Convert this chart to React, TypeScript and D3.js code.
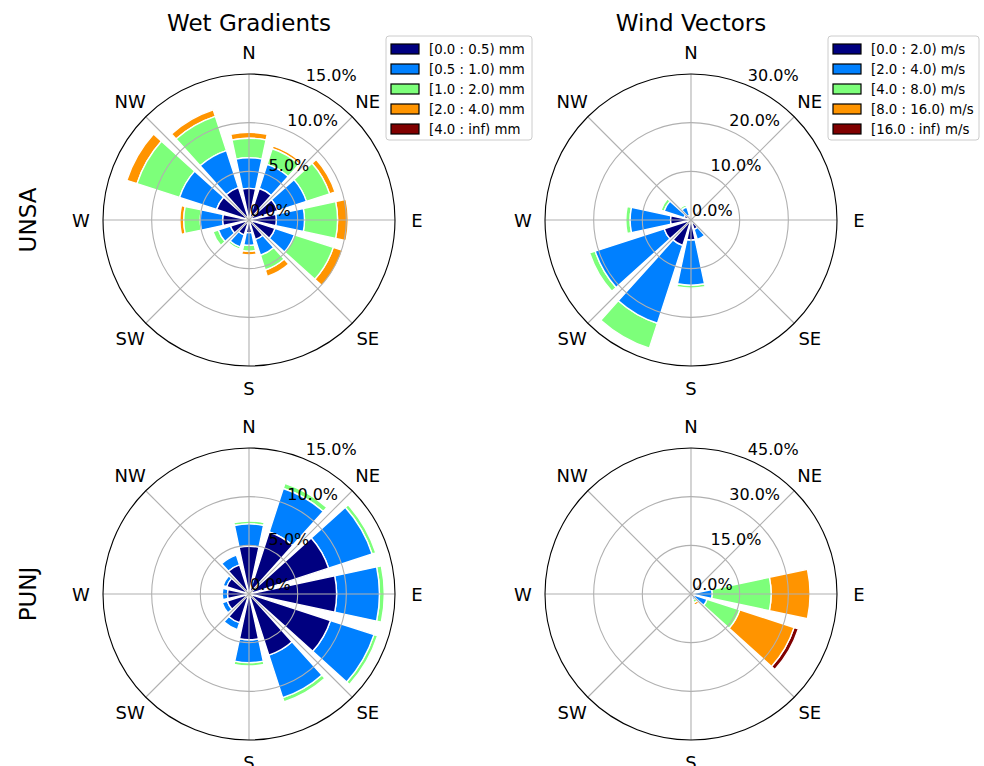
import React, { useEffect, useRef } from "react";
import * as d3 from "d3";

const WIDTH = 984;
const HEIGHT = 766;

// 12 sectors, bar centres in compass degrees
const directions = [0, 30, 60, 90, 120, 150, 180, 210, 240, 270, 300, 330];
const compassLabels = ["N", "NE", "E", "SE", "S", "SW", "W", "NW"];
const binColors = ["#000080", "#0080ff", "#7dff7a", "#ff9400", "#800000"];

const wetBins = ["[0.0 : 0.5) mm", "[0.5 : 1.0) mm", "[1.0 : 2.0) mm", "[2.0 : 4.0) mm", "[4.0 : inf) mm"];
const windBins = ["[0.0 : 2.0) m/s", "[2.0 : 4.0) m/s", "[4.0 : 8.0) m/s", "[8.0 : 16.0) m/s", "[16.0 : inf) m/s"];

const wetTicks = [0, 5, 10, 15];
const windUnsaTicks = [0, 10, 20, 30];
const windPunjTicks = [0, 15, 30, 45];

// frequency (%) of each bin per direction (one row per bin)
const wetUnsa = [
  [3.25, 3.4, 3.1, 2.8, 2.8, 2.1, 1.3, 1.6, 2.0, 2.7, 3.5, 3.5],
  [3.15, 2.6, 3.1, 2.9, 2.1, 1.7, 1.3, 1.3, 1.3, 2.3, 4.0, 4.0],
  [2.0, 1.7, 2.5, 3.4, 4.2, 1.6, 0.6, 0.25, 0.6, 1.7, 4.6, 3.7],
  [0.6, 0.3, 0.6, 1.1, 1.0, 0.7, 0.4, 0.1, 0, 0.4, 1.1, 0.7],
  [0, 0, 0, 0, 0, 0, 0, 0, 0, 0, 0, 0],
];

const windUnsa = [
  [0, 0, 0, 0, 0, 2.0, 4.1, 5.5, 5.8, 4.2, 1.5, 1.0],
  [0, 0, 0, 0, 0, 2.2, 9.3, 16.8, 14.9, 8.3, 4.3, 1.8],
  [0, 0, 0, 0, 0, 0, 0.6, 5.4, 1.2, 0.9, 0.7, 0.5],
  [0, 0, 0, 0, 0, 0, 0, 0, 0, 0, 0, 0],
  [0, 0, 0, 0, 0, 0, 0, 0, 0, 0, 0, 0],
];

const wetPunj = [
  [4.9, 6.7, 8.6, 9.0, 8.8, 6.6, 4.7, 3.1, 2.35, 2.2, 2.4, 3.15],
  [2.3, 4.7, 4.7, 4.4, 4.7, 4.6, 2.35, 0.75, 0.55, 0.55, 0.4, 1.05],
  [0.3, 0.55, 0.4, 0.5, 0.4, 0.45, 0.35, 0, 0, 0, 0, 0],
  [0, 0, 0, 0, 0, 0, 0, 0, 0, 0, 0, 0],
  [0, 0, 0, 0, 0, 0, 0, 0, 0, 0, 0, 0],
];

const windPunj = [
  [0, 0, 0, 0.3, 0.3, 0.2, 0, 0, 0, 0, 0, 0],
  [0, 0, 0, 6.2, 4.9, 1.6, 0, 0, 0, 0, 0, 0],
  [0, 0, 0, 18.2, 10.6, 1.0, 0, 0, 0, 0, 0, 0],
  [0, 0, 0, 12.0, 17.6, 0.8, 0, 0, 0, 0, 0, 0],
  [0, 0, 0, 0, 1.4, 0, 0, 0, 0, 0, 0, 0],
];

const R = 146;
const FONT = "DejaVu Sans, sans-serif";

const panels = [
  { cx: 249, cy: 220, data: wetUnsa, ticks: wetTicks, title: "Wet Gradients", bins: wetBins, legendW: 146 },
  { cx: 691, cy: 220, data: windUnsa, ticks: windUnsaTicks, title: "Wind Vectors", bins: windBins, legendW: 151 },
  { cx: 249, cy: 594, data: wetPunj, ticks: wetTicks },
  { cx: 691, cy: 594, data: windPunj, ticks: windPunjTicks },
];
const rowLabels = [{ text: "UNSA", y: 220 }, { text: "PUNJ", y: 594 }];

const App = () => {
  const svgRef = useRef<SVGSVGElement>(null);

  useEffect(() => {
    const svg = d3.select(svgRef.current);
    svg.selectAll("*").remove();
    const deg = Math.PI / 180;
    const opening = 30 * 0.8; // bar width in degrees

    panels.forEach((p) => {
      const g = svg.append("g").attr("transform", `translate(${p.cx},${p.cy})`);
      const rScale = d3.scaleLinear().domain([0, d3.max(p.ticks)!]).range([0, R]);

      // stacked segments, outer bins drawn first so inner ones sit on top
      const segs: { dir: number; i: number; r0: number; r1: number }[] = [];
      directions.forEach((dir, j) => {
        let acc = 0;
        p.data.forEach((row, i) => {
          const v = row[j];
          if (v > 0) segs.push({ dir, i, r0: acc, r1: acc + v });
          acc += v;
        });
      });
      segs.sort((a, b) => b.i - a.i);

      const arc = d3.arc<any>()
        .innerRadius((d) => rScale(d.r0))
        .outerRadius((d) => rScale(d.r1))
        .startAngle((d) => (d.dir - opening / 2) * deg)
        .endAngle((d) => (d.dir + opening / 2) * deg);

      g.selectAll("path.bar")
        .data(segs)
        .enter()
        .append("path")
        .attr("class", "bar")
        .attr("d", arc)
        .attr("fill", (d) => binColors[d.i])
        .attr("stroke", "white")
        .attr("stroke-width", 1.4)
        .attr("stroke-linejoin", "miter");

      // grid
      g.selectAll("circle.grid")
        .data(p.ticks.slice(1, -1))
        .enter()
        .append("circle")
        .attr("r", (d) => rScale(d))
        .attr("fill", "none")
        .attr("stroke", "#b0b0b0")
        .attr("stroke-width", 1.1);

      g.selectAll("line.grid")
        .data(d3.range(0, 360, 45))
        .enter()
        .append("line")
        .attr("x1", 0)
        .attr("y1", 0)
        .attr("x2", (d) => R * Math.sin(d * deg))
        .attr("y2", (d) => -R * Math.cos(d * deg))
        .attr("stroke", "#b0b0b0")
        .attr("stroke-width", 1.1);

      g.append("circle")
        .attr("r", R)
        .attr("fill", "none")
        .attr("stroke", "black")
        .attr("stroke-width", 1.1);

      // compass labels
      g.selectAll("text.compass")
        .data(compassLabels)
        .enter()
        .append("text")
        .attr("x", (d, k) => (R + 22) * Math.sin(k * 45 * deg))
        .attr("y", (d, k) => -(R + 22) * Math.cos(k * 45 * deg))
        .attr("text-anchor", "middle")
        .attr("dominant-baseline", "central")
        .style("font-family", FONT)
        .style("font-size", "18px")
        .text((d) => d);

      // radial labels along 22.5 deg
      const la = 22.5 * deg;
      g.selectAll("text.rlab")
        .data(p.ticks)
        .enter()
        .append("text")
        .attr("x", (d) => rScale(d) * Math.sin(la) + 1)
        .attr("y", (d) => -rScale(d) * Math.cos(la) - 4)
        .style("font-family", FONT)
        .style("font-size", "16px")
        .text((d) => d3.format(".1f")(d) + "%");

      if (p.title) {
        svg.append("text")
          .attr("x", p.cx)
          .attr("y", 31)
          .attr("text-anchor", "middle")
          .style("font-family", FONT)
          .style("font-size", "23px")
          .text(p.title);
      }

      if (p.bins) {
        const lx = p.cx + 137;
        const lg = svg.append("g").attr("transform", `translate(${lx},36)`);
        lg.append("rect")
          .attr("width", p.legendW)
          .attr("height", 104)
          .attr("rx", 3)
          .attr("fill", "white")
          .attr("fill-opacity", 0.8)
          .attr("stroke", "#cccccc")
          .attr("stroke-width", 1);
        const items = lg.selectAll("g.item")
          .data(p.bins)
          .enter()
          .append("g")
          .attr("transform", (d, i) => `translate(0,${13 + i * 20})`);
        items.append("rect")
          .attr("x", 5)
          .attr("y", -5)
          .attr("width", 28)
          .attr("height", 10)
          .attr("fill", (d, i) => binColors[i])
          .attr("stroke", "black")
          .attr("stroke-width", 1.2);
        items.append("text")
          .attr("x", 43)
          .attr("y", 0)
          .attr("dominant-baseline", "central")
          .style("font-family", FONT)
          .style("font-size", "13.3px")
          .text((d) => d);
      }
    });

    rowLabels.forEach((rl) => {
      svg.append("text")
        .attr("transform", `translate(28,${rl.y}) rotate(-90)`)
        .attr("text-anchor", "middle")
        .attr("dominant-baseline", "central")
        .style("font-family", FONT)
        .style("font-size", "23px")
        .text(rl.text);
    });
  }, []);

  return (
    <div style={{ position: "fixed", left: 0, top: 0, width: WIDTH, height: HEIGHT, background: "white" }}>
      <svg ref={svgRef} width={WIDTH} height={HEIGHT} style={{ display: "block" }} />
    </div>
  );
};

export default App;
